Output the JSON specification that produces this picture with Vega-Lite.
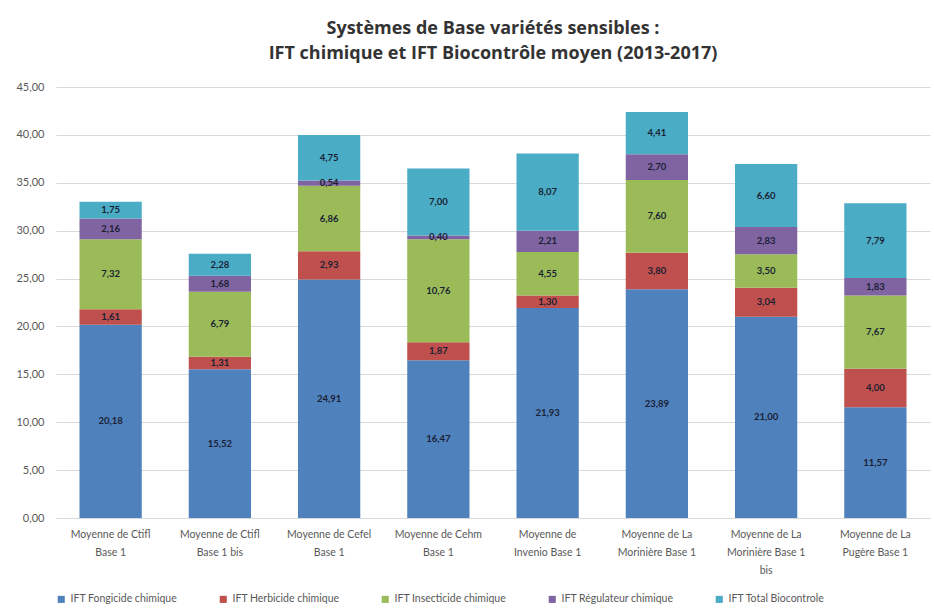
{
  "$schema": "https://vega.github.io/schema/vega-lite/v6.json",
  "width": 934,
  "height": 613,
  "autosize": {"type": "fit", "contains": "padding"},
  "padding": {"left": 15, "top": 20, "right": 4, "bottom": 8},
  "background": "white",
  "config": {
    "locale": {"number": {"decimal": ",", "thousands": " ", "grouping": [3], "currency": ["", " €"]}},
    "font": "Lato",
    "view": {"stroke": null}
  },
  "title": {
    "text": ["Systèmes de Base variétés sensibles :", "IFT chimique et IFT Biocontrôle moyen (2013-2017)"],
    "fontSize": 18,
    "fontWeight": "bold",
    "color": "#333333",
    "font": "Open Sans",
    "lineHeight": 25,
    "offset": 18
  },
  "data": {
    "values": [
      {"sys": "Moyenne de Ctifl|Base 1", "ord": 1, "type": "IFT Fongicide chimique", "k": 1, "v": 20.18},
      {"sys": "Moyenne de Ctifl|Base 1", "ord": 1, "type": "IFT Herbicide chimique", "k": 2, "v": 1.61},
      {"sys": "Moyenne de Ctifl|Base 1", "ord": 1, "type": "IFT Insecticide chimique", "k": 3, "v": 7.32},
      {"sys": "Moyenne de Ctifl|Base 1", "ord": 1, "type": "IFT Régulateur chimique", "k": 4, "v": 2.16},
      {"sys": "Moyenne de Ctifl|Base 1", "ord": 1, "type": "IFT Total Biocontrole", "k": 5, "v": 1.75},
      {"sys": "Moyenne de Ctifl|Base 1 bis", "ord": 2, "type": "IFT Fongicide chimique", "k": 1, "v": 15.52},
      {"sys": "Moyenne de Ctifl|Base 1 bis", "ord": 2, "type": "IFT Herbicide chimique", "k": 2, "v": 1.31},
      {"sys": "Moyenne de Ctifl|Base 1 bis", "ord": 2, "type": "IFT Insecticide chimique", "k": 3, "v": 6.79},
      {"sys": "Moyenne de Ctifl|Base 1 bis", "ord": 2, "type": "IFT Régulateur chimique", "k": 4, "v": 1.68},
      {"sys": "Moyenne de Ctifl|Base 1 bis", "ord": 2, "type": "IFT Total Biocontrole", "k": 5, "v": 2.28},
      {"sys": "Moyenne de Cefel|Base 1", "ord": 3, "type": "IFT Fongicide chimique", "k": 1, "v": 24.91},
      {"sys": "Moyenne de Cefel|Base 1", "ord": 3, "type": "IFT Herbicide chimique", "k": 2, "v": 2.93},
      {"sys": "Moyenne de Cefel|Base 1", "ord": 3, "type": "IFT Insecticide chimique", "k": 3, "v": 6.86},
      {"sys": "Moyenne de Cefel|Base 1", "ord": 3, "type": "IFT Régulateur chimique", "k": 4, "v": 0.54},
      {"sys": "Moyenne de Cefel|Base 1", "ord": 3, "type": "IFT Total Biocontrole", "k": 5, "v": 4.75},
      {"sys": "Moyenne de Cehm|Base 1", "ord": 4, "type": "IFT Fongicide chimique", "k": 1, "v": 16.47},
      {"sys": "Moyenne de Cehm|Base 1", "ord": 4, "type": "IFT Herbicide chimique", "k": 2, "v": 1.87},
      {"sys": "Moyenne de Cehm|Base 1", "ord": 4, "type": "IFT Insecticide chimique", "k": 3, "v": 10.76},
      {"sys": "Moyenne de Cehm|Base 1", "ord": 4, "type": "IFT Régulateur chimique", "k": 4, "v": 0.40},
      {"sys": "Moyenne de Cehm|Base 1", "ord": 4, "type": "IFT Total Biocontrole", "k": 5, "v": 7.00},
      {"sys": "Moyenne de|Invenio Base 1", "ord": 5, "type": "IFT Fongicide chimique", "k": 1, "v": 21.93},
      {"sys": "Moyenne de|Invenio Base 1", "ord": 5, "type": "IFT Herbicide chimique", "k": 2, "v": 1.30},
      {"sys": "Moyenne de|Invenio Base 1", "ord": 5, "type": "IFT Insecticide chimique", "k": 3, "v": 4.55},
      {"sys": "Moyenne de|Invenio Base 1", "ord": 5, "type": "IFT Régulateur chimique", "k": 4, "v": 2.21},
      {"sys": "Moyenne de|Invenio Base 1", "ord": 5, "type": "IFT Total Biocontrole", "k": 5, "v": 8.07},
      {"sys": "Moyenne de La|Morinière Base 1", "ord": 6, "type": "IFT Fongicide chimique", "k": 1, "v": 23.89},
      {"sys": "Moyenne de La|Morinière Base 1", "ord": 6, "type": "IFT Herbicide chimique", "k": 2, "v": 3.80},
      {"sys": "Moyenne de La|Morinière Base 1", "ord": 6, "type": "IFT Insecticide chimique", "k": 3, "v": 7.60},
      {"sys": "Moyenne de La|Morinière Base 1", "ord": 6, "type": "IFT Régulateur chimique", "k": 4, "v": 2.70},
      {"sys": "Moyenne de La|Morinière Base 1", "ord": 6, "type": "IFT Total Biocontrole", "k": 5, "v": 4.41},
      {"sys": "Moyenne de La|Morinière Base 1|bis", "ord": 7, "type": "IFT Fongicide chimique", "k": 1, "v": 21.00},
      {"sys": "Moyenne de La|Morinière Base 1|bis", "ord": 7, "type": "IFT Herbicide chimique", "k": 2, "v": 3.04},
      {"sys": "Moyenne de La|Morinière Base 1|bis", "ord": 7, "type": "IFT Insecticide chimique", "k": 3, "v": 3.50},
      {"sys": "Moyenne de La|Morinière Base 1|bis", "ord": 7, "type": "IFT Régulateur chimique", "k": 4, "v": 2.83},
      {"sys": "Moyenne de La|Morinière Base 1|bis", "ord": 7, "type": "IFT Total Biocontrole", "k": 5, "v": 6.60},
      {"sys": "Moyenne de La|Pugère Base 1", "ord": 8, "type": "IFT Fongicide chimique", "k": 1, "v": 11.57},
      {"sys": "Moyenne de La|Pugère Base 1", "ord": 8, "type": "IFT Herbicide chimique", "k": 2, "v": 4.00},
      {"sys": "Moyenne de La|Pugère Base 1", "ord": 8, "type": "IFT Insecticide chimique", "k": 3, "v": 7.67},
      {"sys": "Moyenne de La|Pugère Base 1", "ord": 8, "type": "IFT Régulateur chimique", "k": 4, "v": 1.83},
      {"sys": "Moyenne de La|Pugère Base 1", "ord": 8, "type": "IFT Total Biocontrole", "k": 5, "v": 7.79}
    ]
  },
  "transform": [
    {"stack": "v", "groupby": ["sys"], "sort": [{"field": "k", "order": "ascending"}], "as": ["v0", "v1"]},
    {"calculate": "(datum.v0 + datum.v1) / 2", "as": "mid"}
  ],
  "encoding": {
    "x": {
      "field": "sys",
      "type": "nominal",
      "sort": {"field": "ord", "order": "ascending"},
      "scale": {"paddingInner": 0.43, "paddingOuter": 0.215},
      "axis": {
        "title": null,
        "labelAngle": 0,
        "labelExpr": "split(datum.label, '|')",
        "labelFontSize": 10.5,
        "labelColor": "#595959",
        "labelLineHeight": 18,
        "labelPadding": 11,
        "ticks": false,
        "domain": false
      }
    }
  },
  "layer": [
    {
      "mark": {"type": "bar"},
      "encoding": {
        "y": {
          "field": "v0",
          "type": "quantitative",
          "scale": {"domain": [0, 45]},
          "axis": {
            "title": null,
            "format": ",.2f",
            "values": [0, 5, 10, 15, 20, 25, 30, 35, 40, 45],
            "labelFontSize": 11,
            "labelColor": "#595959",
            "gridColor": "#d9d9d9",
            "domain": false,
            "ticks": false,
            "labelPadding": 12
          }
        },
        "y2": {"field": "v1"},
        "color": {
          "field": "type",
          "type": "nominal",
          "sort": {"field": "k"},
          "scale": {
            "domain": ["IFT Fongicide chimique", "IFT Herbicide chimique", "IFT Insecticide chimique", "IFT Régulateur chimique", "IFT Total Biocontrole"],
            "range": ["#4F81BD", "#C0504D", "#9BBB59", "#8064A2", "#4BACC6"]
          },
          "legend": {
            "orient": "bottom",
            "direction": "horizontal",
            "title": null,
            "symbolType": "square",
            "symbolSize": 50,
            "labelFontSize": 10.5,
            "labelColor": "#595959",
            "columnPadding": 40,
            "offset": 18
          }
        }
      }
    },
    {
      "mark": {"type": "text", "fontSize": 9.5, "fontWeight": "bold", "color": "#1a1f33"},
      "encoding": {
        "y": {
          "field": "mid",
          "type": "quantitative",
          "scale": {"domain": [0, 45]},
          "axis": {
            "title": null,
            "format": ",.2f",
            "values": [0, 5, 10, 15, 20, 25, 30, 35, 40, 45],
            "labelFontSize": 11,
            "labelColor": "#595959",
            "gridColor": "#d9d9d9",
            "domain": false,
            "ticks": false,
            "labelPadding": 12
          }
        },
        "text": {"field": "v", "type": "quantitative", "format": ",.2f"}
      }
    }
  ]
}
